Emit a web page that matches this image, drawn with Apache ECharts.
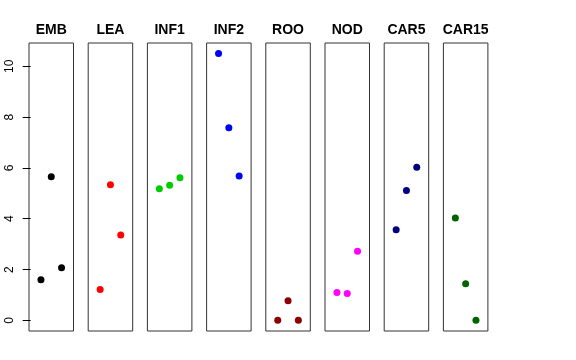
<!DOCTYPE html>
<html><head><meta charset="utf-8">
<script src="https://cdn.jsdelivr.net/npm/echarts@6/dist/echarts.min.js"></script>
<style>html,body{margin:0;padding:0;background:#fff}#c{width:576px;height:360px}</style>
</head><body><div id="c"></div>
<script>
const panels = ["EMB","LEA","INF1","INF2","ROO","NOD","CAR5","CAR15"];
const colors = ["#000000","#FF0000","#00CD00","#0000FF","#8B0000","#FF00FF","#000080","#006400"];
const xPositions = [1, 2, 3];
const EMB = [1.60, 5.65, 2.07];
const LEA = [1.21, 5.34, 3.36];
const INF1 = [5.18, 5.32, 5.61];
const INF2 = [10.51, 7.58, 5.68];
const ROO = [0.0, 0.77, 0.0];
const NOD = [1.10, 1.06, 2.72];
const CAR5 = [3.57, 5.11, 6.03];
const CAR15 = [4.03, 1.44, 0.0];
const yTicks = [0, 2, 4, 6, 8, 10];
const values = [EMB, LEA, INF1, INF2, ROO, NOD, CAR5, CAR15];

(function () {
  const grids = [], xAxes = [], yAxes = [], series = [], titles = [];
  const left0 = 29, step = 59.2, w = 44.5, gTop = 43, gH = 288;
  panels.forEach((p, i) => {
    const L = left0 + i * step;
    grids.push({left: L, top: gTop, width: w, height: gH, show: true, borderColor: '#333', borderWidth: 1, backgroundColor: 'transparent', containLabel: false});
    xAxes.push({gridIndex: i, type: 'value', min: -0.16, max: 4.16, show: false});
    yAxes.push({gridIndex: i, type: 'value', min: -0.42, max: 10.92, show: i === 0,
      splitLine: {show: false},
      axisLine: {show: false},
      axisTick: {show: i === 0, customValues: yTicks, length: 8, inside: false, lineStyle: {color: '#000', width: 1}},
      axisLabel: {show: i === 0, customValues: yTicks, rotate: 90, margin: 13, color: '#000', fontSize: 12, fontFamily: 'Liberation Sans, Arial, sans-serif'}
    });
    series.push({type: 'scatter', xAxisIndex: i, yAxisIndex: i, symbolSize: 7,
      itemStyle: {color: colors[i], opacity: 1},
      data: values[i].map((v, k) => [xPositions[k], v]), silent: true});
    titles.push({text: p, left: L + w / 2, top: 23, padding: 0, textAlign: 'center',
      textStyle: {fontSize: 14, fontWeight: 'bold', color: '#000', fontFamily: 'Liberation Sans, Arial, sans-serif'}});
  });

  const chart = echarts.init(document.getElementById('c'), null, {renderer: 'canvas'});
  chart.setOption({animation: false, backgroundColor: '#fff', title: titles, grid: grids, xAxis: xAxes, yAxis: yAxes, series: series});
})();
</script></body></html>
